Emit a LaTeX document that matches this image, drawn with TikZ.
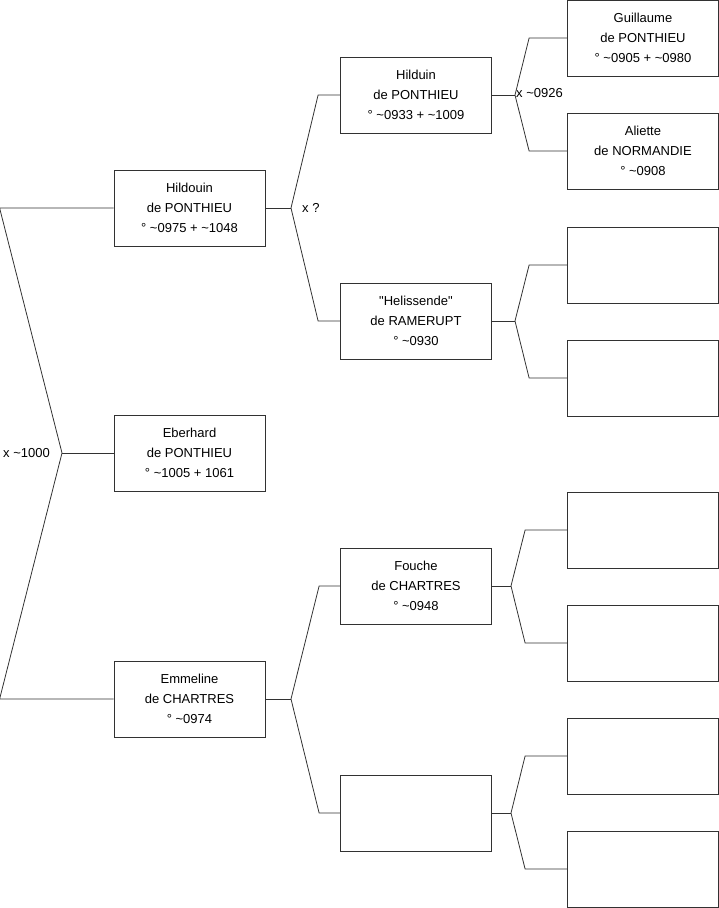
\documentclass[tikz,border=0pt]{standalone}
\usepackage{fontspec}
\setmainfont{Liberation Sans}[Ligatures=TeXOff]
\usepackage{tikz}
\usetikzlibrary{positioning}
\definecolor{treeline}{RGB}{50,50,50}
\newcommand{\ca}{\textasciitilde}

\begin{document}
\begin{tikzpicture}[x=1pt, y=-1pt,
person/.style={draw=treeline, line width=0.8pt, fill=white, minimum width=151pt,
minimum height=76pt, inner sep=0pt, align=center,
font=\fontsize{13}{20}\selectfont},
link/.style={draw=treeline, line width=0.8pt},
marriage/.style={font=\fontsize{13}{15}\selectfont, inner sep=1pt}
]
\useasboundingbox (0,0) rectangle (719,908);

% generation 1
\node[person] (hildouin) at (189.5,208) {Hildouin\\de PONTHIEU\\° \ca0975 + \ca1048};
\node[person] (eberhard) at (189.5,453) {Eberhard\\de PONTHIEU\\° \ca1005 + 1061};
\node[person] (emmeline) at (189.5,699) {Emmeline\\de CHARTRES\\° \ca0974};

% generation 2
\node[person] (hilduin) at (416,95) {Hilduin\\de PONTHIEU\\° \ca0933 + \ca1009};
\node[person] (helissende) at (416,321) {"Helissende"\\de RAMERUPT\\° \ca0930};
\node[person] (fouche) at (416,586) {Fouche\\de CHARTRES\\° \ca0948};
\node[person] (emmemother) at (416,813) {};

% generation 3
\node[person] (guillaume) at (643,38) {Guillaume\\de PONTHIEU\\° \ca0905 + \ca0980};
\node[person] (aliette) at (643,151) {Aliette\\de NORMANDIE\\° \ca0908};
\node[person] (helfather) at (643,265) {};
\node[person] (helmother) at (643,378) {};
\node[person] (foufather) at (643,530) {};
\node[person] (foumother) at (643,643) {};
\node[person] (unkfather) at (643,756) {};
\node[person] (unkmother) at (643,869) {};

% forks
\coordinate (f0) at (62,453);
\coordinate (f1) at (291,208);
\coordinate (f2) at (291,699);
\coordinate (f3) at (515,95);
\coordinate (f4) at (515,321);
\coordinate (f5) at (511,586);
\coordinate (f6) at (511,813);

\node[marriage, anchor=west] (m0) at (2,453) {x \ca1000};
\node[marriage, right=10pt of f1] (m1) {x ?};
\node[marriage, anchor=west] (m3) at ([yshift=2pt]f3) {x \ca0926};

\draw[link] (hildouin.west) -- ([xshift=-114pt]hildouin.west) -- (f0)
  -- ([xshift=-114pt]emmeline.west) -- (emmeline.west);
\draw[link] (f0) -- (eberhard.west);

\draw[link] (hildouin.east) -- (f1);
\draw[link] (hilduin.west) -- ([xshift=-22pt]hilduin.west) -- (f1)
  -- ([xshift=-22pt]helissende.west) -- (helissende.west);

\draw[link] (emmeline.east) -- (f2);
\draw[link] (fouche.west) -- ([xshift=-21pt]fouche.west) -- (f2)
  -- ([xshift=-21pt]emmemother.west) -- (emmemother.west);

\draw[link] (hilduin.east) -- (f3);
\draw[link] (guillaume.west) -- ([xshift=-38pt]guillaume.west) -- (f3)
  -- ([xshift=-38pt]aliette.west) -- (aliette.west);

\draw[link] (helissende.east) -- (f4);
\draw[link] (helfather.west) -- ([xshift=-38pt]helfather.west) -- (f4)
  -- ([xshift=-38pt]helmother.west) -- (helmother.west);

\draw[link] (fouche.east) -- (f5);
\draw[link] (foufather.west) -- ([xshift=-42pt]foufather.west) -- (f5)
  -- ([xshift=-42pt]foumother.west) -- (foumother.west);

\draw[link] (emmemother.east) -- (f6);
\draw[link] (unkfather.west) -- ([xshift=-42pt]unkfather.west) -- (f6)
  -- ([xshift=-42pt]unkmother.west) -- (unkmother.west);

\end{tikzpicture}
\end{document}
